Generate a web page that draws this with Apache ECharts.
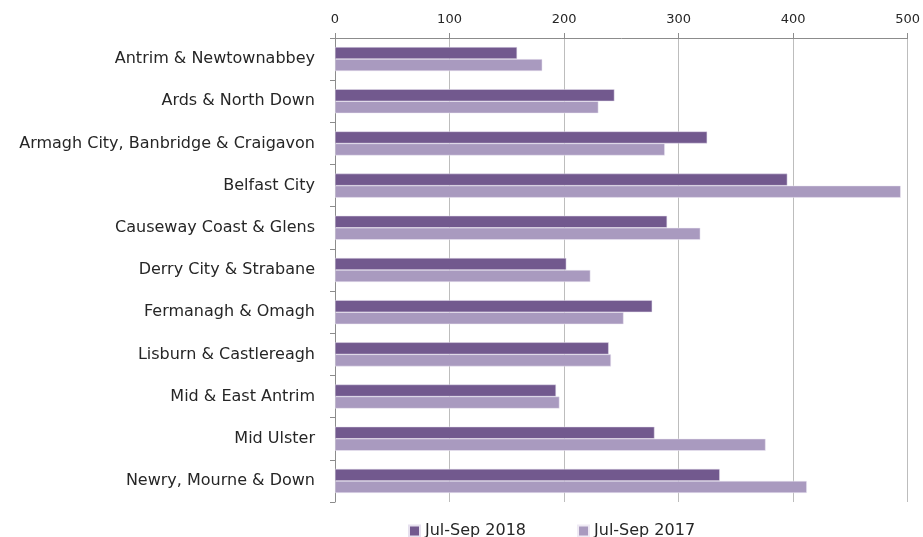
<!DOCTYPE html>
<html>
<head>
<meta charset="utf-8">
<script src="https://cdn.jsdelivr.net/npm/echarts@6/dist/echarts.min.js"></script>
<style>
    html, body {margin: 0; padding: 0; background: #fff;}
    #main {width: 923px; height: 537px;}
</style>
</head>
<body>
<div id="main"></div>
<script>
// 区域名称
const councils = [
    'Antrim & Newtownabbey',
    'Ards & North Down',
    'Armagh City, Banbridge & Craigavon',
    'Belfast City',
    'Causeway Coast & Glens',
    'Derry City & Strabane',
    'Fermanagh & Omagh',
    'Lisburn & Castlereagh',
    'Mid & East Antrim',
    'Mid Ulster',
    'Newry, Mourne & Down'
];
const seriesNames = ['Jul-Sep 2018', 'Jul-Sep 2017'];
// 数值
const values2018 = [159, 244, 325, 395, 290, 202, 277, 239, 193, 279, 336];
const values2017 = [181, 230, 288, 494, 319, 223, 252, 241, 196, 376, 412];

const chart = echarts.init(document.getElementById('main'));

const option = {
    animation: false,
    textStyle: {fontFamily: 'DejaVu Sans'},
    grid: {left: 335, right: 9, top: 38, bottom: 35},
    legend: {
        bottom: -7,
        left: 403,
        itemWidth: 11,
        itemHeight: 11,
        itemGap: 51,
        icon: 'rect',
        textStyle: {fontSize: 16, color: '#262626'},
        data: seriesNames
    },
    xAxis: {
        type: 'value',
        position: 'top',
        min: 0,
        max: 500,
        interval: 100,
        axisLine: {show: true, lineStyle: {color: '#8c8c8c'}},
        axisTick: {show: true, length: 5, lineStyle: {color: '#8c8c8c'}},
        axisLabel: {fontSize: 13, color: '#262626', margin: 12},
        splitLine: {show: true, lineStyle: {color: '#bdbdbd', width: 1}}
    },
    yAxis: {
        type: 'category',
        inverse: true,
        data: councils,
        axisLine: {show: true, lineStyle: {color: '#8c8c8c'}},
        axisTick: {show: true, length: 5, lineStyle: {color: '#8c8c8c'}},
        axisLabel: {fontSize: 16, color: '#262626', margin: 20}
    },
    series: [
        {
            name: seriesNames[0],
            type: 'bar',
            data: values2018,
            barGap: '0%',
            barCategoryGap: '43%',
            itemStyle: {color: '#72598e', borderColor: '#e6e0ee', borderWidth: 0.5}
        },
        {
            name: seriesNames[1],
            type: 'bar',
            data: values2017,
            itemStyle: {color: '#a99abf', borderColor: '#efeaf4', borderWidth: 0.5}
        }
    ]
};

chart.setOption(option);
</script>
</body>
</html>
